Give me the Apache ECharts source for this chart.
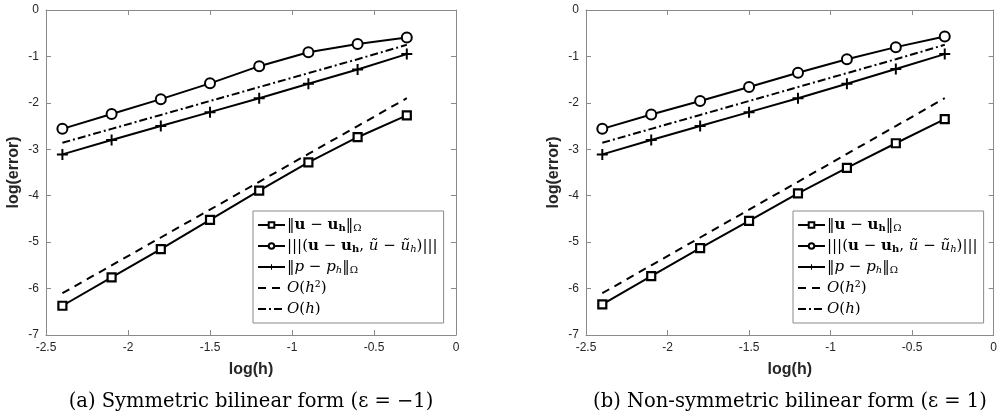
<!DOCTYPE html>
<html>
<head>
<meta charset="utf-8">
<script src="https://cdn.jsdelivr.net/npm/echarts@6/dist/echarts.min.js"></script>
<style>html,body{margin:0;padding:0;background:#fff;}#c{width:1000px;height:416px;}</style>
</head>
<body>
<div id="c"></div>
<script>
// ---- data ----
const logH = [-2.4, -2.1, -1.8, -1.5, -1.2, -0.9, -0.6, -0.3];
const xTicks = [-2.5, -2, -1.5, -1, -0.5, 0];
const yTicks = [-7, -6, -5, -4, -3, -2, -1, 0];

// (a) symmetric
const symU   = [-6.37, -5.76, -5.15, -4.52, -3.89, -3.28, -2.74, -2.27];
const symE   = [-2.56, -2.24, -1.92, -1.58, -1.21, -0.91, -0.73, -0.59];
const symP   = [-3.11, -2.80, -2.50, -2.20, -1.90, -1.59, -1.28, -0.95];
// (b) non-symmetric
const nonU   = [-6.34, -5.73, -5.13, -4.54, -3.95, -3.40, -2.87, -2.35];
const nonE   = [-2.56, -2.25, -1.96, -1.66, -1.35, -1.06, -0.80, -0.57];
const nonP   = [-3.11, -2.80, -2.50, -2.20, -1.90, -1.59, -1.27, -0.95];
// reference slopes
const refH2  = [-6.10, -5.50, -4.90, -4.30, -3.70, -3.10, -2.50, -1.90];
const refH1  = [-2.86, -2.56, -2.26, -1.96, -1.66, -1.36, -1.06, -0.75];

const captions = ['(a) Symmetric bilinear form (\u03b5 = \u22121)', '(b) Non-symmetric bilinear form (\u03b5 = 1)'];

const pair = (ys) => logH.map((x, i) => [x, ys[i]]);
const plusPath = 'path://M4.1,0 L5.9,0 L5.9,4.1 L10,4.1 L10,5.9 L5.9,5.9 L5.9,10 L4.1,10 L4.1,5.9 L0,5.9 L0,4.1 L4.1,4.1 Z';

const legendText = {
  u: '‖{b|u} − {b|u}{bs|h}‖{s|Ω}',
  e: '|||({b|u} − {b|u}{bs|h}, {i|ũ} − {i|ũ}{is|h})|||',
  p: '‖{i|p} − {i|p}{is|h}‖{s|Ω}',
  h2: '{i|O}({i|h}²)',
  h1: '{i|O}({i|h})'
};

const axisColor = '#8a8a8a';
const labelColor = '#262626';
const grids = [
  {left: 46, right: 544, top: 10, bottom: 81},
  {left: 586, right: 3, top: 10, bottom: 81}
];
const xAxes = [], yAxes = [];
grids.forEach((g, gi) => {
  const mk = (pos) => ({type: 'value', gridIndex: gi, min: -2.5, max: 0, interval: 0.5, position: pos,
    axisLine: {show: true, onZero: false, lineStyle: {color: axisColor, width: 1}},
    axisTick: {show: true, inside: true, length: 5, lineStyle: {color: axisColor}},
    splitLine: {show: false}});
  const xb = mk('bottom');
  xb.name = 'log(h)'; xb.nameLocation = 'middle'; xb.nameGap = 27;
  xb.nameTextStyle = {fontFamily: 'Liberation Sans', fontWeight: 'bold', fontSize: 16, color: labelColor};
  xb.axisLabel = {fontFamily: 'Liberation Sans', fontSize: 12, color: labelColor, margin: 7,
    formatter: v => xTicks.includes(v) ? String(v) : ''};
  const xt = mk('top'); xt.axisLabel = {show: false};
  xAxes.push(xb, xt);
  const mky = (pos) => ({type: 'value', gridIndex: gi, min: -7, max: 0, interval: 1, position: pos,
    axisLine: {show: true, onZero: false, lineStyle: {color: axisColor, width: 1}},
    axisTick: {show: true, inside: true, length: 5, lineStyle: {color: axisColor}},
    splitLine: {show: false}});
  const yl = mky('left');
  yl.name = 'log(error)'; yl.nameLocation = 'middle'; yl.nameGap = 24;
  yl.nameTextStyle = {fontFamily: 'Liberation Sans', fontWeight: 'bold', fontSize: 16, color: labelColor};
  yl.axisLabel = {fontFamily: 'Liberation Sans', fontSize: 12, color: labelColor, margin: 7,
    formatter: v => yTicks.includes(v) ? String(v) : ''};
  const yr = mky('right'); yr.axisLabel = {show: false};
  yAxes.push(yl, yr);
});

function makeSeries(prefix, gi, U, E, P) {
  const base = {type: 'line', xAxisIndex: gi * 2, yAxisIndex: gi * 2, animation: false, z: 3};
  return [
    Object.assign({}, base, {name: prefix + 'u', data: pair(U), symbol: 'rect', symbolSize: 8,
      lineStyle: {color: '#000', width: 2}, itemStyle: {color: '#fff', borderColor: '#000', borderWidth: 2.2}}),
    Object.assign({}, base, {name: prefix + 'e', data: pair(E), symbol: 'circle', symbolSize: 10,
      lineStyle: {color: '#000', width: 2}, itemStyle: {color: '#fff', borderColor: '#000', borderWidth: 2}}),
    Object.assign({}, base, {name: prefix + 'p', data: pair(P), symbol: plusPath, symbolSize: 11,
      lineStyle: {color: '#000', width: 2}, itemStyle: {color: '#000', borderWidth: 0}}),
    Object.assign({}, base, {name: prefix + 'h2', data: pair(refH2), symbol: 'none', showSymbol: false,
      lineStyle: {color: '#000', width: 2, type: [8, 6]}, itemStyle: {color: '#000'}}),
    Object.assign({}, base, {name: prefix + 'h1', data: pair(refH1), symbol: 'none', showSymbol: false,
      lineStyle: {color: '#000', width: 2, type: [8, 3, 2, 3]}, itemStyle: {color: '#000'}})
  ];
}

const serif = 'DejaVu Serif';
const fs = 15;
const richStyles = {
  b: {fontFamily: serif, fontWeight: 'bold', fontSize: fs, color: '#000'},
  i: {fontFamily: serif, fontStyle: 'italic', fontSize: fs, color: '#000'},
  bs: {fontFamily: serif, fontWeight: 'bold', fontSize: 10, color: '#000', padding: [7, 0, 0, 0]},
  is: {fontFamily: serif, fontStyle: 'italic', fontSize: 10, color: '#000', padding: [7, 0, 0, 0]},
  s: {fontFamily: serif, fontSize: 10, color: '#000', padding: [7, 0, 0, 0]}
};
function makeLegend(prefix, left) {
  return {
    orient: 'vertical', left: left, top: 211, itemWidth: 27, itemHeight: 7, itemGap: 3,
    padding: [5, 6, 5, 4], backgroundColor: '#fff', borderColor: '#8a8a8a', borderWidth: 1,
    selectedMode: false,
    data: ['u', 'e', 'p', 'h2', 'h1'].map(k => {
      const d = {name: prefix + k};
      if (k === 'h2' || k === 'h1') d.itemStyle = {opacity: 0};
      return d;
    }),
    formatter: name => legendText[name.slice(1)],
    textStyle: {fontFamily: serif, fontSize: fs, color: '#000', rich: richStyles, lineHeight: 18, padding: [0, 0, 0, -3]}
  };
}

const chart = echarts.init(document.getElementById('c'), null, {renderer: 'canvas'});
chart.setOption({
  backgroundColor: '#fff',
  animation: false,
  grid: grids,
  xAxis: xAxes,
  yAxis: yAxes,
  legend: [makeLegend('a', 253), makeLegend('b', 793)],
  title: [
    {text: captions[0], left: 246, top: 387, textAlign: 'center',
      textStyle: {fontFamily: serif, fontWeight: 'normal', fontSize: 19.5, color: '#000'}},
    {text: captions[1], left: 785, top: 387, textAlign: 'center',
      textStyle: {fontFamily: serif, fontWeight: 'normal', fontSize: 19.5, color: '#000'}}
  ],
  series: [].concat(makeSeries('a', 0, symU, symE, symP), makeSeries('b', 1, nonU, nonE, nonP))
});
</script>
</body>
</html>
